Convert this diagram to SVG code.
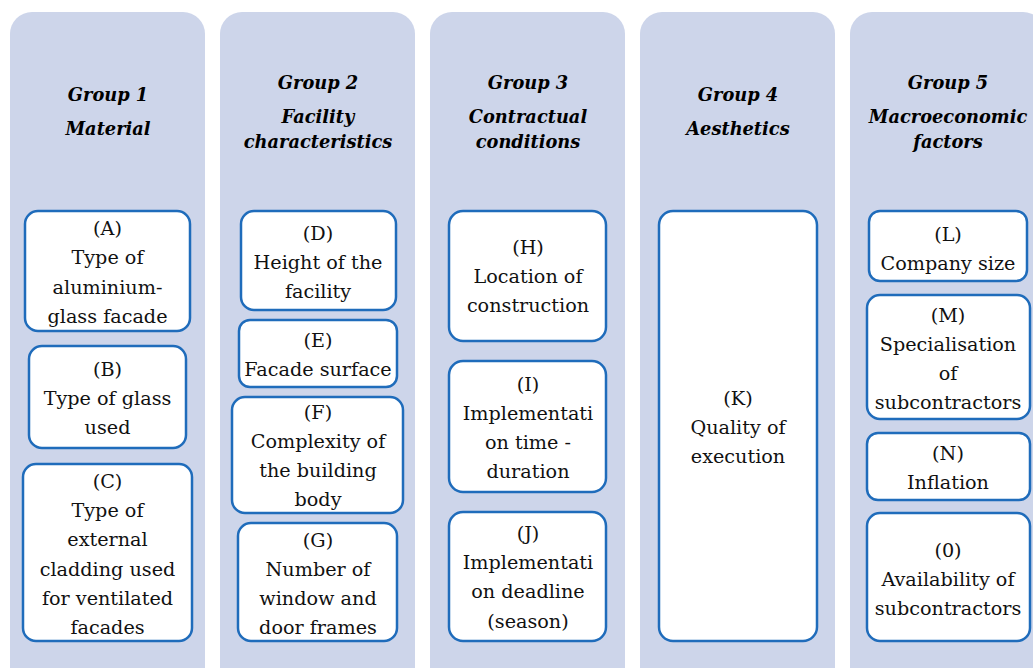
<svg xmlns="http://www.w3.org/2000/svg" width="1033" height="668" viewBox="0 0 1033 668">
<style>
.col{fill:#cdd5ea;}
.box{fill:#ffffff;stroke:#1f6cbb;stroke-width:2.5;}
.hd{font-family:"DejaVu Serif","Liberation Serif",serif;font-size:17.8px;font-weight:bold;font-style:italic;fill:#000;text-anchor:middle;}
.tx{font-family:"DejaVu Serif","Liberation Serif",serif;font-size:19.2px;fill:#111;text-anchor:middle;}
</style>
<rect width="1033" height="668" fill="#ffffff"/>
<g id="columns">
<rect class="col" x="10" y="12" width="195" height="700" rx="22"/>
<rect class="col" x="220" y="12" width="195" height="700" rx="22"/>
<rect class="col" x="430" y="12" width="195" height="700" rx="22"/>
<rect class="col" x="640" y="12" width="195" height="700" rx="22"/>
<rect class="col" x="850" y="12" width="195" height="700" rx="22"/>
</g>
<g id="group1-header"><text class="hd" x="108" y="101">Group 1</text><text class="hd" x="108" y="135">Material</text></g>
<g id="group2-header"><text class="hd" x="318" y="89">Group 2</text><text class="hd" x="318" y="123">Facility</text><text class="hd" x="318" y="148">characteristics</text></g>
<g id="group3-header"><text class="hd" x="528" y="89">Group 3</text><text class="hd" x="528" y="123">Contractual</text><text class="hd" x="528" y="148">conditions</text></g>
<g id="group4-header"><text class="hd" x="738" y="101">Group 4</text><text class="hd" x="738" y="135">Aesthetics</text></g>
<g id="group5-header"><text class="hd" x="948" y="89">Group 5</text><text class="hd" x="948" y="123">Macroeconomic</text><text class="hd" x="948" y="148">factors</text></g>
<g id="nodeA"><rect class="box" x="25" y="211" width="165" height="120" rx="13"/><text class="tx" x="107.5" y="235">(A)</text><text class="tx" x="107.5" y="264">Type of</text><text class="tx" x="107.5" y="294">aluminium-</text><text class="tx" x="107.5" y="323">glass facade</text></g>
<g id="nodeB"><rect class="box" x="29" y="346" width="157" height="102" rx="13"/><text class="tx" x="107.5" y="376">(B)</text><text class="tx" x="107.5" y="405">Type of glass</text><text class="tx" x="107.5" y="434">used</text></g>
<g id="nodeC"><rect class="box" x="23" y="464" width="169" height="177" rx="13"/><text class="tx" x="107.5" y="488">(C)</text><text class="tx" x="107.5" y="517">Type of</text><text class="tx" x="107.5" y="546">external</text><text class="tx" x="107.5" y="576">cladding used</text><text class="tx" x="107.5" y="605">for ventilated</text><text class="tx" x="107.5" y="634">facades</text></g>
<g id="nodeD"><rect class="box" x="241" y="211" width="155" height="99" rx="13"/><text class="tx" x="318" y="240">(D)</text><text class="tx" x="318" y="269">Height of the</text><text class="tx" x="318" y="298">facility</text></g>
<g id="nodeE"><rect class="box" x="239" y="320" width="158" height="67" rx="11"/><text class="tx" x="318" y="347">(E)</text><text class="tx" x="318" y="376">Facade surface</text></g>
<g id="nodeF"><rect class="box" x="232" y="397" width="171" height="116" rx="13"/><text class="tx" x="318" y="419">(F)</text><text class="tx" x="318" y="448">Complexity of</text><text class="tx" x="318" y="477">the building</text><text class="tx" x="318" y="506">body</text></g>
<g id="nodeG"><rect class="box" x="238" y="523" width="159" height="118" rx="13"/><text class="tx" x="318" y="547">(G)</text><text class="tx" x="318" y="576">Number of</text><text class="tx" x="318" y="605">window and</text><text class="tx" x="318" y="634">door frames</text></g>
<g id="nodeH"><rect class="box" x="449" y="211" width="157" height="130" rx="14"/><text class="tx" x="528" y="254">(H)</text><text class="tx" x="528" y="283">Location of</text><text class="tx" x="528" y="312">construction</text></g>
<g id="nodeI"><rect class="box" x="449" y="361" width="157" height="131" rx="14"/><text class="tx" x="528" y="391">(I)</text><text class="tx" x="528" y="420">Implementati</text><text class="tx" x="528" y="449">on time -</text><text class="tx" x="528" y="478">duration</text></g>
<g id="nodeJ"><rect class="box" x="449" y="512" width="157" height="129" rx="14"/><text class="tx" x="528" y="540">(J)</text><text class="tx" x="528" y="569">Implementati</text><text class="tx" x="528" y="598">on deadline</text><text class="tx" x="528" y="628">(season)</text></g>
<g id="nodeK"><rect class="box" x="659" y="211" width="158" height="430" rx="14"/><text class="tx" x="738" y="405">(K)</text><text class="tx" x="738" y="434">Quality of</text><text class="tx" x="738" y="463">execution</text></g>
<g id="nodeL"><rect class="box" x="869" y="211" width="158" height="70" rx="11"/><text class="tx" x="948" y="241">(L)</text><text class="tx" x="948" y="270">Company size</text></g>
<g id="nodeM"><rect class="box" x="867" y="295" width="163" height="124" rx="13"/><text class="tx" x="948" y="322">(M)</text><text class="tx" x="948" y="351">Specialisation</text><text class="tx" x="948" y="380">of</text><text class="tx" x="948" y="409">subcontractors</text></g>
<g id="nodeN"><rect class="box" x="867" y="433" width="163" height="67" rx="11"/><text class="tx" x="948" y="460">(N)</text><text class="tx" x="948" y="489">Inflation</text></g>
<g id="nodeO"><rect class="box" x="867" y="513" width="163" height="128" rx="13"/><text class="tx" x="948" y="557">(0)</text><text class="tx" x="948" y="586">Availability of</text><text class="tx" x="948" y="615">subcontractors</text></g>
<g id="connectors"></g>
</svg>
